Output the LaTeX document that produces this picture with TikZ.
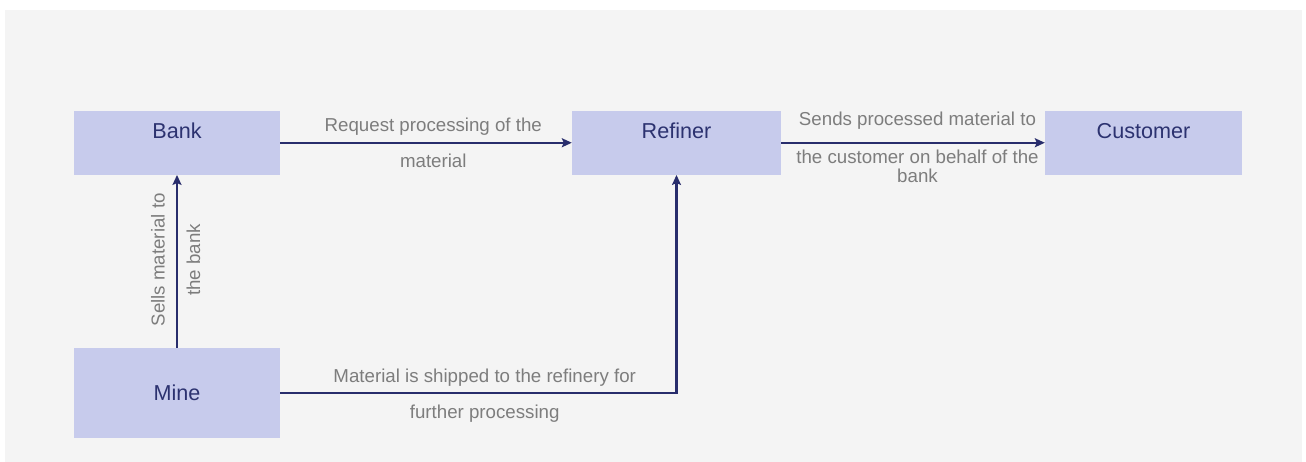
\documentclass[tikz,border=0pt]{standalone}
\usepackage{fontspec}
\setmainfont{Liberation Sans}
\usetikzlibrary{arrows.meta}
\definecolor{panelgray}{RGB}{244,244,244}
\definecolor{boxfill}{RGB}{199,203,236}
\definecolor{boxtext}{RGB}{44,50,112}
\definecolor{linknavy}{RGB}{40,45,108}
\definecolor{notegray}{RGB}{125,125,125}
\tikzset{
  actor/.style={fill=boxfill, draw=none, text=boxtext,
    font=\fontsize{21.6}{26}\selectfont, inner sep=0pt,
    minimum width=206pt, minimum height=64pt},
  toptext/.style={text height=15.5pt, text depth=23pt},
  flow/.style={draw=linknavy, line width=2.3pt,
    -{Stealth[length=10pt,width=9pt,inset=2pt]}},
  note/.style={text=notegray, font=\fontsize{18.7}{22}\selectfont,
    inner sep=0pt, anchor=base},
}
\begin{document}
\begin{tikzpicture}[x=1pt,y=-1pt]
  % page and grey panel
  \fill[white] (0,0) rectangle (1306,462);
  \fill[panelgray] (5,10) rectangle (1302,462);
  \useasboundingbox (0,0) rectangle (1306,462);

  % parties
  \node[actor, toptext] (bank) at (177,142.75) {Bank};
  \node[actor, toptext, minimum width=209pt] (refiner) at (676.5,142.75) {Refiner};
  \node[actor, toptext, minimum width=197pt] (customer) at (1143.5,142.75) {Customer};
  \node[actor, minimum height=90pt] (mine) at (177,393) {Mine};

  % flows between parties
  \draw[flow] (bank) --
    node[note, pos=0.525, yshift=11pt] {Request processing of the}
    node[note, pos=0.525, yshift=-24.5pt] {material}
    (refiner);

  \draw[flow] (refiner) --
    node[note, pos=0.517, yshift=17pt] {Sends processed material to}
    node[note, pos=0.517, yshift=-20.5pt] {the customer on behalf of the}
    node[note, pos=0.517, yshift=-40pt] {bank}
    (customer);

  \draw[flow] (mine) --
    node[note, pos=0.509, xshift=-12.5pt, rotate=90] {Sells material to}
    node[note, pos=0.509, xshift=23pt, rotate=90] {the bank}
    (bank);

  \draw[flow] (mine.east) -|
    node[note, pos=0.258, yshift=10.5pt] {Material is shipped to the refinery for}
    node[note, pos=0.258, yshift=-25pt] {further processing}
    (refiner.south);
\end{tikzpicture}
\end{document}
